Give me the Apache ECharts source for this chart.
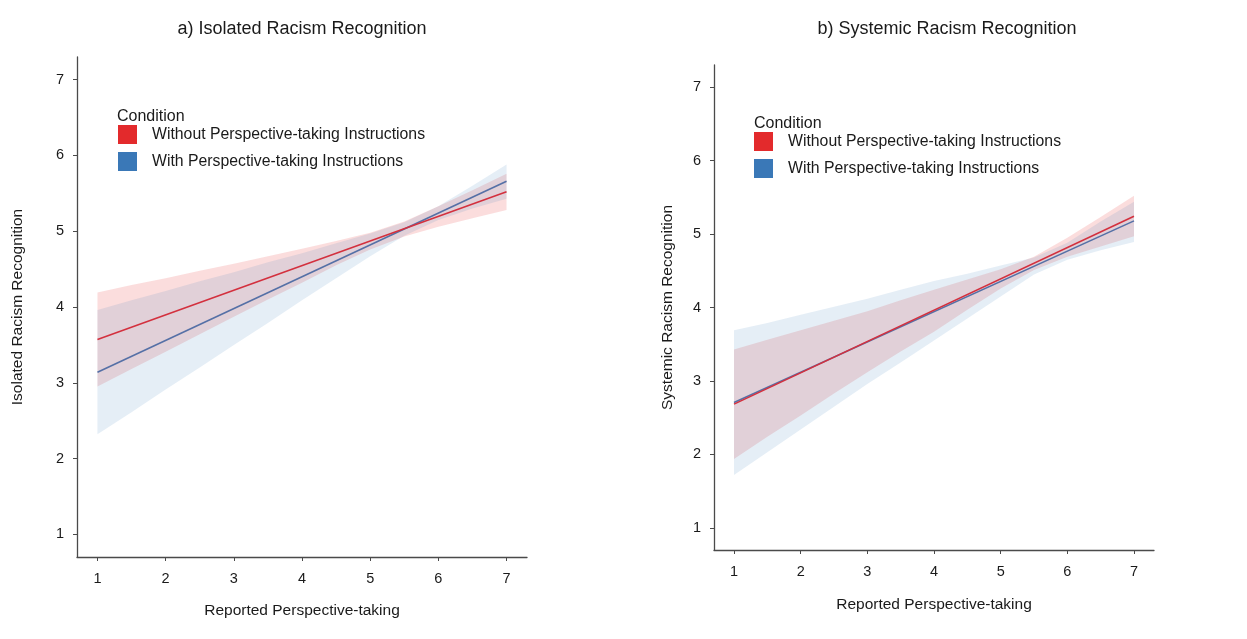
<!DOCTYPE html>
<html>
<head>
<meta charset="utf-8">
<script src="https://cdn.jsdelivr.net/npm/echarts@6/dist/echarts.min.js"></script>
<style>
html,body{margin:0;padding:0;background:#fff;}
#chart{width:1247px;height:639px;}
</style>
</head>
<body>
<div id="chart"></div>
<script>
// ---- Data ----
const TICKS = [1, 2, 3, 4, 5, 6, 7];
const LINE_X = [1, 7];
const BAND_X = [1, 1.5, 2, 2.5, 3, 3.5, 4, 4.5, 5, 5.5, 6, 6.5, 7];

const SERIES_NAMES = ['Without Perspective-taking Instructions', 'With Perspective-taking Instructions'];
const PANEL_TITLES = ['a) Isolated Racism Recognition', 'b) Systemic Racism Recognition'];
const Y_NAMES = ['Isolated Racism Recognition', 'Systemic Racism Recognition'];
const X_NAME = 'Reported Perspective-taking';
const LEGEND_TITLE = 'Condition';

// Panel a) Isolated
const isoRedLine  = [3.57, 5.52];
const isoBlueLine = [3.14, 5.66];
const isoRedLower  = [2.95, 3.18, 3.41, 3.64, 3.87, 4.10, 4.32, 4.55, 4.76, 4.93, 5.06, 5.17, 5.28];
const isoRedUpper  = [4.19, 4.29, 4.38, 4.48, 4.57, 4.67, 4.77, 4.87, 4.98, 5.13, 5.33, 5.54, 5.76];
const isoBlueLower = [2.32, 2.61, 2.91, 3.20, 3.50, 3.79, 4.09, 4.38, 4.67, 4.94, 5.15, 5.30, 5.43];
const isoBlueUpper = [3.96, 4.09, 4.21, 4.34, 4.46, 4.59, 4.71, 4.84, 4.97, 5.12, 5.33, 5.60, 5.88];

// Panel b) Systemic
const sysRedLine  = [2.685, 5.243];
const sysBlueLine = [2.707, 5.179];
const sysRedLower  = [1.94, 2.24, 2.53, 2.83, 3.12, 3.40, 3.67, 3.97, 4.26, 4.51, 4.69, 4.83, 4.97];
const sysRedUpper  = [3.43, 3.56, 3.69, 3.82, 3.95, 4.10, 4.24, 4.38, 4.52, 4.69, 4.95, 5.23, 5.52];
const sysBlueLower = [1.72, 2.03, 2.34, 2.65, 2.96, 3.25, 3.55, 3.85, 4.15, 4.45, 4.65, 4.78, 4.89];
const sysBlueUpper = [3.69, 3.79, 3.90, 4.01, 4.12, 4.24, 4.36, 4.46, 4.57, 4.68, 4.88, 5.17, 5.44];

// ---- Styling ----
const FONT = '"Liberation Sans", Arial, Helvetica, sans-serif';
const TXT = '#1a1a1a';
const RED_LINE = '#D3303E';
const BLUE_LINE = '#5570A6';
const RED_FILL = 'rgba(228,26,28,0.15)';
const BLUE_FILL = 'rgba(55,126,184,0.13)';
const RED_KEY = '#E32A2C';
const BLUE_KEY = '#3A78B7';
const AXIS_COLOR = '#4a4a4a';

const panels = [
  { redLine: isoRedLine, blueLine: isoBlueLine, rl: isoRedLower, ru: isoRedUpper, bl: isoBlueLower, bu: isoBlueUpper },
  { redLine: sysRedLine, blueLine: sysBlueLine, rl: sysRedLower, ru: sysRedUpper, bl: sysBlueLower, bu: sysBlueUpper }
];

const grids = [
  { left: 77, right: 720, top: 57, bottom: 82 },
  { left: 714, right: 93, top: 65, bottom: 89 }
];
const yNameGaps = [51, 38];
const xNameGaps = [46, 47];

function pairs(xs, ys) { return xs.map((x, i) => [x, ys[i]]); }

function bandSeries(k, lo, hi, fill) {
  const rows = BAND_X.map((x, i) => [x, lo[i], hi[i]]);
  return {
    type: 'custom', xAxisIndex: k, yAxisIndex: k, silent: true, animation: false,
    encode: { x: 0, y: [1, 2] },
    data: rows,
    renderItem: function (params, api) {
      if (params.dataIndex !== 0) return null;
      const top = rows.map(r => api.coord([r[0], r[2]]));
      const bot = rows.slice().reverse().map(r => api.coord([r[0], r[1]]));
      return { type: 'polygon', shape: { points: top.concat(bot) }, style: { fill: fill, stroke: null } };
    }
  };
}

const xAxes = [], yAxes = [], series = [];
panels.forEach((p, k) => {
  xAxes.push({
    type: 'value', gridIndex: k, min: 0.7, max: 7.3,
    splitLine: { show: false },
    axisLine: { show: true, onZero: false, lineStyle: { color: AXIS_COLOR, width: 1.3 } },
    axisTick: { show: true, length: 4, customValues: TICKS, lineStyle: { color: AXIS_COLOR, width: 1 } },
    axisLabel: { customValues: TICKS, margin: 14, fontSize: 14.5, color: TXT, fontFamily: FONT },
    name: X_NAME, nameLocation: 'middle', nameGap: xNameGaps[k],
    nameTextStyle: { fontSize: 15.5, color: TXT, fontFamily: FONT }
  });
  yAxes.push({
    type: 'value', gridIndex: k, min: 0.7, max: 7.3,
    splitLine: { show: false },
    axisLine: { show: true, onZero: false, lineStyle: { color: AXIS_COLOR, width: 1.3 } },
    axisTick: { show: true, length: 4, customValues: TICKS, lineStyle: { color: AXIS_COLOR, width: 1 } },
    axisLabel: { customValues: TICKS, margin: 13, fontSize: 14.5, color: TXT, fontFamily: FONT },
    name: Y_NAMES[k], nameLocation: 'middle', nameGap: yNameGaps[k], nameRotate: 90,
    nameTextStyle: { fontSize: 15.5, color: TXT, fontFamily: FONT }
  });

  const base = { type: 'line', xAxisIndex: k, yAxisIndex: k, symbol: 'none', silent: true, animation: false };
  series.push(bandSeries(k, p.rl, p.ru, RED_FILL));
  series.push(bandSeries(k, p.bl, p.bu, BLUE_FILL));
  series.push(Object.assign({}, base, { name: SERIES_NAMES[1], data: pairs(LINE_X, p.blueLine), lineStyle: { color: BLUE_LINE, width: 1.6 }, itemStyle: { color: BLUE_KEY } }));
  series.push(Object.assign({}, base, { name: SERIES_NAMES[0], data: pairs(LINE_X, p.redLine), lineStyle: { color: RED_LINE, width: 1.6 }, itemStyle: { color: RED_KEY } }));
});

const legendPos = [{ left: 118, top: 125 }, { left: 754, top: 132 }];
const legends = legendPos.map(pos => ({
  left: pos.left, top: pos.top, orient: 'vertical', icon: 'rect',
  itemWidth: 19, itemHeight: 19, itemGap: 8, selectedMode: false, padding: 0,
  data: [
    { name: SERIES_NAMES[0], itemStyle: { color: RED_KEY } },
    { name: SERIES_NAMES[1], itemStyle: { color: BLUE_KEY } }
  ],
  textStyle: { fontSize: 15.8, color: TXT, fontFamily: FONT, padding: [1, 0, 0, 10] }
}));

const titles = [
  { text: PANEL_TITLES[0], left: 297, top: 15, textAlign: 'center', textStyle: { fontSize: 18, fontWeight: 'normal', color: TXT, fontFamily: FONT } },
  { text: PANEL_TITLES[1], left: 942, top: 15, textAlign: 'center', textStyle: { fontSize: 18, fontWeight: 'normal', color: TXT, fontFamily: FONT } },
  { text: LEGEND_TITLE, left: 117, top: 109, padding: 0, textStyle: { fontSize: 16, fontWeight: 'normal', color: TXT, fontFamily: FONT } },
  { text: LEGEND_TITLE, left: 754, top: 116, padding: 0, textStyle: { fontSize: 16, fontWeight: 'normal', color: TXT, fontFamily: FONT } }
];

const chart = echarts.init(document.getElementById('chart'), null, { renderer: 'canvas' });
chart.setOption({
  backgroundColor: '#ffffff',
  animation: false,
  title: titles,
  legend: legends,
  grid: grids,
  xAxis: xAxes,
  yAxis: yAxes,
  series: series
});
</script>
</body>
</html>
